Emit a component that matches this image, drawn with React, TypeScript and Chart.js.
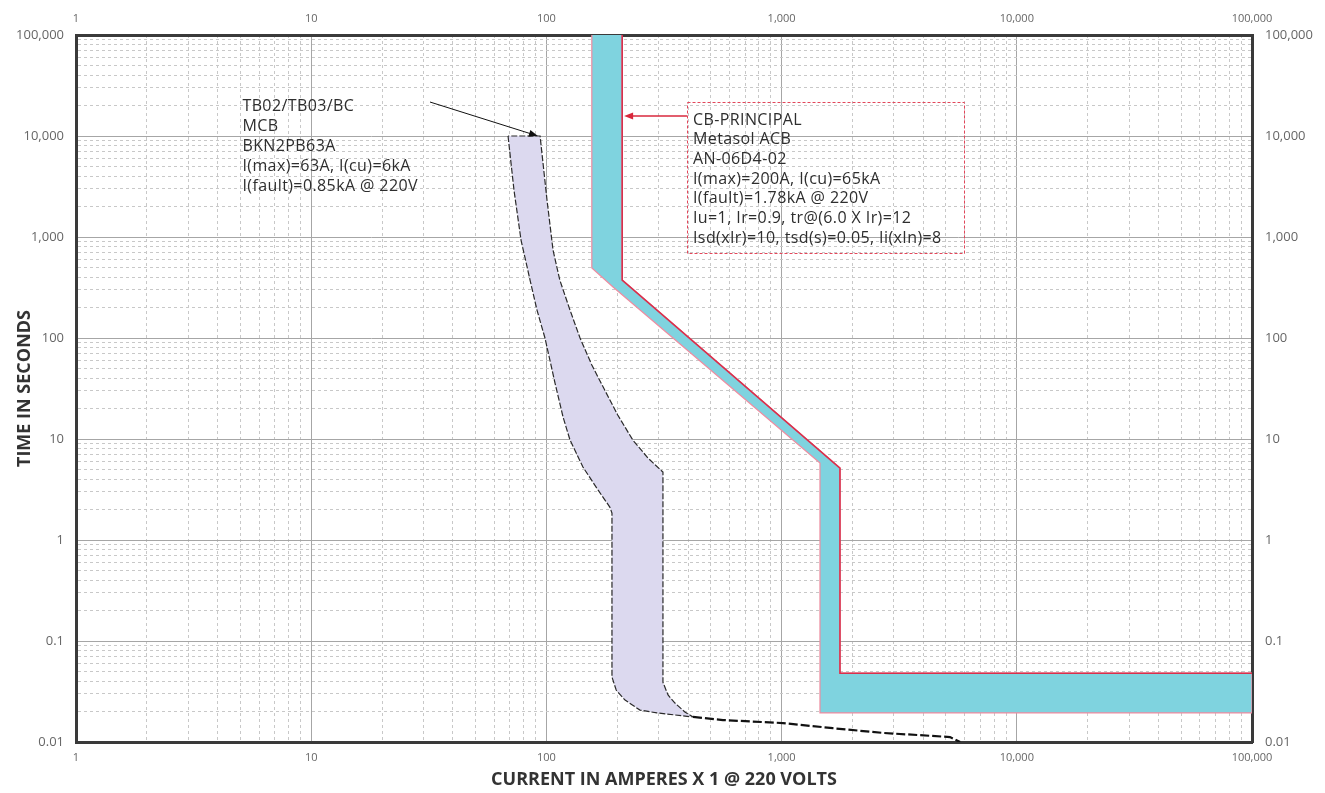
import React, { useEffect, useRef } from 'react';
import { Chart, registerables } from 'chart.js';

Chart.register(...registerables);

// ---- axes ----
const X_MIN = 1;
const X_MAX = 100000;
const Y_MIN = 0.01;
const Y_MAX = 100000;
const X_DECADES = [1, 10, 100, 1000, 10000, 100000];
const Y_DECADES = [0.01, 0.1, 1, 10, 100, 1000, 10000, 100000];
const MINOR_STEPS = [1, 2, 3, 4, 5, 6, 7, 8, 9];

// ---- MCB TB02/TB03/BC (amperes, seconds) ----
const mcbMinCurrent = [68.7, 72.8, 78, 85.2, 91.2, 98.6, 108.8, 117.7, 126, 143, 165.7, 186, 190, 190, 198, 216, 250, 295, 420];
const mcbMinTime = [10000, 2917, 933, 375, 189, 100, 35.8, 16.5, 9.77, 5.28, 3.13, 2.12, 1.85, 0.044, 0.0327, 0.026, 0.0207, 0.0194, 0.0177];
const mcbMaxCurrent = [94, 100.6, 106.7, 114, 126, 139, 156, 177, 201, 233, 270, 313, 313, 329, 352, 388, 420];
const mcbMaxTime = [10000, 2323, 743, 375, 189, 100, 54, 30.5, 17.3, 9.77, 6.5, 4.7, 0.039, 0.0292, 0.0243, 0.0198, 0.0177];
const mcbTailCurrent = [420, 563, 1014, 1652, 2698, 5200, 5740];
const mcbTailTime = [0.0177, 0.0165, 0.0154, 0.0137, 0.0123, 0.0112, 0.01];

// ---- CB-PRINCIPAL Metasol ACB ----
const cbMinCurrent = [156, 156, 192, 1456, 1456, 100000];
const cbMinTime = [100000, 493, 320, 5.78, 0.0194, 0.0194];
const cbMaxCurrent = [210, 210, 1771, 1771, 100000];
const cbMaxTime = [100000, 375, 5.16, 0.048, 0.048];

// ---- labels ----
const mcbLabel = ['TB02/TB03/BC', 'MCB', 'BKN2PB63A', 'I(max)=63A, I(cu)=6kA', 'I(fault)=0.85kA @ 220V'];
const cbLabel = [
  'CB-PRINCIPAL',
  'Metasol ACB',
  'AN-06D4-02',
  'I(max)=200A, I(cu)=65kA',
  'I(fault)=1.78kA @ 220V',
  'Iu=1, Ir=0.9, tr@(6.0 X Ir)=12',
  'Isd(xIr)=10, tsd(s)=0.05, Ii(xIn)=8',
];
// anchors in data units [A, s]
const mcbTextAt = [5.1, 19400];
const mcbArrowFrom = [32, 21700];
const mcbArrowTo = [92, 10000];
const cbTextAt = [420, 14400];
const cbArrowFrom = [396, 15800];
const cbArrowTo = [214, 15800];
const cbBoxFrom = [396, 21700];
const cbBoxTo = [5960, 695];

const X_TITLE = 'CURRENT IN AMPERES X 1 @ 220 VOLTS';
const Y_TITLE = 'TIME IN SECONDS';

const FONT = '"Open Sans", "DejaVu Sans", sans-serif';

const pts = (xs: number[], ys: number[]) => xs.map((x, i) => ({ x, y: ys[i] }));

const isMajor = (v: number) => {
  if (!v || v <= 0) return false;
  const l = Math.log10(v);
  return Math.abs(l - Math.round(l)) < 1e-6;
};

const buildTicks = (decades: number[], min: number, max: number) => {
  const out: number[] = [];
  decades.forEach((d) => {
    MINOR_STEPS.forEach((m) => {
      const v = parseFloat((m * d).toPrecision(6));
      if (v >= min * 0.9999 && v <= max * 1.0001 && out.indexOf(v) < 0) out.push(v);
    });
  });
  return out.sort((a, b) => a - b);
};

const fmt = (v: number) => (v >= 1 ? Math.round(v).toLocaleString('en-US') : String(parseFloat(v.toPrecision(3))));

const annotationPlugin = {
  id: 'tccAnnotations',
  afterDatasetsDraw(chart: any) {
    const { ctx, scales } = chart;
    const xs = scales.x;
    const ys = scales.y;
    const P = (p: number[]) => [xs.getPixelForValue(p[0]), ys.getPixelForValue(p[1])];
    const arrow = (from: number[], to: number[], color: string, w: number) => {
      const [x1, y1] = P(from);
      const [x2, y2] = P(to);
      const a = Math.atan2(y2 - y1, x2 - x1);
      ctx.save();
      ctx.strokeStyle = color;
      ctx.fillStyle = color;
      ctx.lineWidth = w;
      ctx.beginPath();
      ctx.moveTo(x1, y1);
      ctx.lineTo(x2 - 6 * Math.cos(a), y2 - 6 * Math.sin(a));
      ctx.stroke();
      ctx.beginPath();
      ctx.moveTo(x2, y2);
      ctx.lineTo(x2 - 9 * Math.cos(a) + 3.5 * Math.sin(a), y2 - 9 * Math.sin(a) - 3.5 * Math.cos(a));
      ctx.lineTo(x2 - 9 * Math.cos(a) - 3.5 * Math.sin(a), y2 - 9 * Math.sin(a) + 3.5 * Math.cos(a));
      ctx.closePath();
      ctx.fill();
      ctx.restore();
    };
    const text = (lines: string[], at: number[], gap: number) => {
      const [x, y] = P(at);
      ctx.save();
      ctx.font = '16px ' + FONT;
      try {
        ctx.letterSpacing = '0.4px';
      } catch (e) {
        /* ignore */
      }
      ctx.fillStyle = '#2e2e2e';
      ctx.textAlign = 'left';
      ctx.textBaseline = 'middle';
      lines.forEach((l, i) => ctx.fillText(l, x, y + i * gap));
      ctx.restore();
    };
    // MCB
    arrow(mcbArrowFrom, mcbArrowTo, '#111111', 1);
    text(mcbLabel, mcbTextAt, 20);
    // CB box
    const [bx1, by1] = P(cbBoxFrom);
    const [bx2, by2] = P(cbBoxTo);
    ctx.save();
    ctx.strokeStyle = '#e3465a';
    ctx.lineWidth = 1;
    ctx.setLineDash([3, 2]);
    ctx.strokeRect(Math.round(bx1) + 0.5, Math.round(by1) + 0.5, Math.round(bx2 - bx1), Math.round(by2 - by1));
    ctx.restore();
    arrow(cbArrowFrom, cbArrowTo, '#d8283c', 1.5);
    text(cbLabel, cbTextAt, 19.7);
  },
};

const xTickFont = { family: FONT, size: 11 };
const yTickFont = { family: FONT, size: 13 };
const titleFont = { family: FONT, size: 18, weight: 'bold' as const };

const xTicks = buildTicks(X_DECADES, X_MIN, X_MAX);
const yTicks = buildTicks(Y_DECADES, Y_MIN, Y_MAX);

const axisBase = (vals: number[], min: number, max: number, font: any, padding: number) => ({
  type: 'logarithmic' as const,
  min,
  max,
  afterBuildTicks: (s: any) => {
    s.ticks = vals.map((v) => ({ value: v, major: isMajor(v) }));
  },
  ticks: {
    autoSkip: false,
    maxRotation: 0,
    minRotation: 0,
    font,
    padding,
    color: '#666666',
    callback: (v: any) => (isMajor(Number(v)) ? fmt(Number(v)) : ''),
  },
});

const gridOpts = {
  drawTicks: false,
  color: (c: any) => (c.tick && isMajor(c.tick.value) ? '#a6a6a6' : '#c8c8c8'),
  lineWidth: 1,
};
const borderOpts = {
  display: true,
  width: 3,
  color: '#3a3a3a',
  dash: (c: any) => (c.tick && !isMajor(c.tick.value) ? [3, 3] : []),
};

export default function App() {
  const ref = useRef<HTMLCanvasElement | null>(null);
  useEffect(() => {
    document.body.style.margin = '0';
    const mcbPoly = [...pts(mcbMinCurrent, mcbMinTime), ...pts(mcbMaxCurrent, mcbMaxTime).reverse()];
    mcbPoly.push({ ...mcbPoly[0] });
    const cbPoly = [...pts(cbMinCurrent, cbMinTime), ...pts(cbMaxCurrent, cbMaxTime).reverse()];
    const chart = new Chart(ref.current as HTMLCanvasElement, {
      type: 'scatter',
      data: {
        datasets: [
          {
            label: 'MCB tail',
            data: pts(mcbTailCurrent, mcbTailTime),
            showLine: true,
            borderColor: '#111111',
            borderWidth: 2.2,
            borderDash: [9, 3],
            pointRadius: 0,
            fill: false,
          },
          {
            label: 'MCB band',
            data: mcbPoly,
            showLine: true,
            borderColor: '#2a2a2a',
            borderWidth: 1.2,
            borderDash: [6, 2],
            backgroundColor: '#dcd9ef',
            pointRadius: 0,
            fill: 'shape',
          },
          {
            label: 'CB max',
            data: pts(cbMaxCurrent, cbMaxTime),
            showLine: true,
            borderColor: '#d8304c',
            borderWidth: 1.6,
            pointRadius: 0,
            fill: false,
          },
          {
            label: 'CB band',
            data: cbPoly,
            showLine: true,
            borderColor: '#f08ca0',
            borderWidth: 1.2,
            backgroundColor: '#7fd3df',
            pointRadius: 0,
            fill: 'shape',
          },
        ],
      },
      options: {
        animation: false,
        responsive: true,
        maintainAspectRatio: false,
        layout: { padding: 0 },
        plugins: { legend: { display: false }, tooltip: { enabled: false } },
        scales: {
          x: {
            ...axisBase(xTicks, X_MIN, X_MAX, xTickFont, 9),
            position: 'bottom',
            afterFit: (s: any) => {
              s.height = 51;
            },
            grid: gridOpts,
            border: borderOpts,
            title: { display: true, text: X_TITLE, font: titleFont, color: '#333333', padding: { top: 0, bottom: 2 } },
          },
          x2: {
            ...axisBase(xTicks, X_MIN, X_MAX, xTickFont, 10),
            position: 'top',
            afterFit: (s: any) => {
              s.height = 35;
            },
            grid: { display: false, drawTicks: false },
            border: { display: true, width: 3, color: '#3a3a3a' },
          },
          y: {
            ...axisBase(yTicks, Y_MIN, Y_MAX, yTickFont, 12),
            position: 'left',
            afterFit: (s: any) => {
              s.width = 76;
            },
            grid: gridOpts,
            border: borderOpts,
            title: { display: true, text: Y_TITLE, font: titleFont, color: '#333333', padding: { top: 14, bottom: 0 } },
          },
          y2: {
            ...axisBase(yTicks, Y_MIN, Y_MAX, yTickFont, 13),
            position: 'right',
            afterFit: (s: any) => {
              s.width = 73;
            },
            grid: { display: false, drawTicks: false },
            border: { display: true, width: 3, color: '#3a3a3a' },
          },
        },
      } as any,
      plugins: [annotationPlugin],
    });
    return () => chart.destroy();
  }, []);
  return (
    <div style={{ position: 'absolute', left: 0, top: 0, width: 1325, height: 793, background: '#ffffff' }}>
      <canvas ref={ref} />
    </div>
  );
}
